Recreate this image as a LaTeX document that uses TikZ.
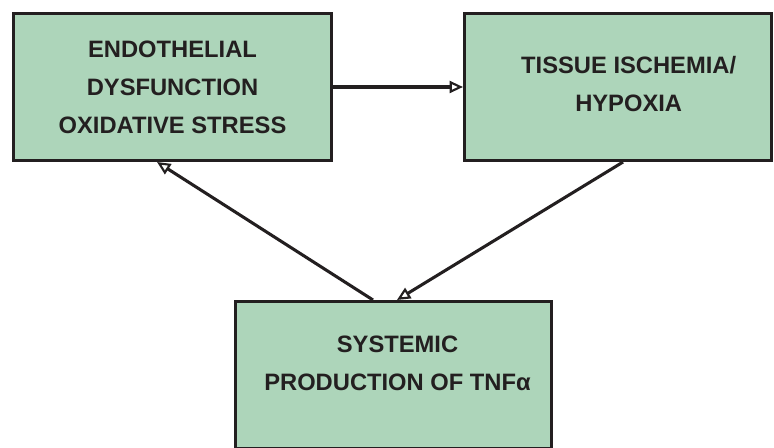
\documentclass[tikz,border=0pt]{standalone}
\usepackage{fontspec}
\setmainfont{Liberation Sans}
\usetikzlibrary{arrows.meta}
\definecolor{boxfill}{RGB}{173,213,186}
\definecolor{boxline}{RGB}{35,31,32}
\tikzset{
  box/.style={draw=boxline, line width=2.3pt, fill=boxfill, inner sep=0pt},
  boxtext/.style={align=center, text=boxline, font=\bfseries\fontsize{17.8}{28.5}\selectfont},
  link/.style={draw=boxline, line width=2.3pt,
    -{Triangle[open, length=10pt, width=9pt, line width=1.6pt]}}
}
\begin{document}
\begin{tikzpicture}[x=0.75pt,y=-0.75pt]
    \useasboundingbox (0,0) rectangle (774,448);
    \clip (0,0) rectangle (774,448);
    % the three boxes
    \node[box, boxtext, minimum width=238.5pt, minimum height=110.25pt] (endo)
        at (172.5,87) {ENDOTHELIAL\\DYSFUNCTION\\OXIDATIVE STRESS};
    \node[box, minimum width=230.25pt, minimum height=110.25pt] (tissue)
        at (618,87) {};
    \node[boxtext] (tissuetext) at ([xshift=8pt,yshift=2pt]tissue.center) {TISSUE ISCHEMIA/\\HYPOXIA};
    \node[box, minimum width=237pt, minimum height=110.25pt] (tnf)
        at (393.5,375) {};
    \node[boxtext] (tnftext) at ([xshift=3pt,yshift=9pt]tnf.center) {SYSTEMIC\\PRODUCTION OF TNFα};
    % the loop of arrows
    \draw[link] (endo.east) -- (tissue.west);
    \draw[link] ([xshift=3.75pt]tissue.south) -- ([xshift=2.6pt]tnf.north);
    \draw[link] ([xshift=-15.4pt]tnf.north) -- ([xshift=-11.6pt]endo.south);
\end{tikzpicture}
\end{document}
